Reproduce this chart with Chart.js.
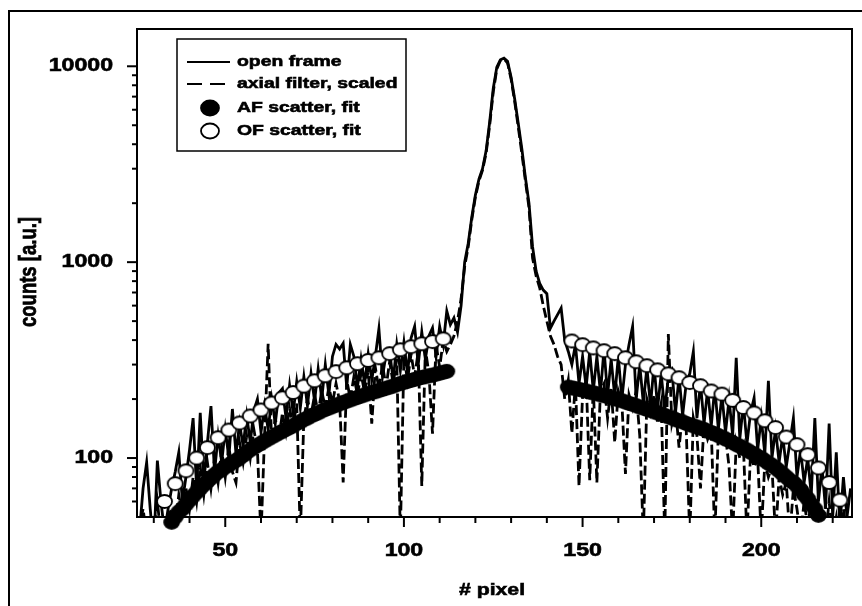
<!DOCTYPE html>
<html><head><meta charset="utf-8">
<script src="https://cdn.jsdelivr.net/npm/chart.js@4.4.1/dist/chart.umd.min.js"></script>
<style>html,body{margin:0;padding:0;background:#fff;}canvas{display:block;}</style>
</head><body>
<canvas id="c" width="862" height="606"></canvas>
<script>
// ---------------- data ----------------
const PIXEL = [
 25,26,27,28,29,30,31,32,33,34,
 35,36,37,38,39,40,41,42,43,44,
 45,46,47,48,49,50,51,52,53,54,
 55,56,57,58,59,60,61,62,63,64,
 65,66,67,68,69,70,71,72,73,74,
 75,76,77,78,79,80,81,82,83,84,
 85,86,87,88,89,90,91,92,93,94,
 95,96,97,98,99,100,101,102,103,104,
 105,106,107,108,109,110,111,112,113,114,
 115,116,117,118,119,120,121,122,123,124,
 125,126,127,128,129,130,131,132,133,134,
 135,136,137,138,139,140,141,142,143,144,
 145,146,147,148,149,150,151,152,153,154,
 155,156,157,158,159,160,161,162,163,164,
 165,166,167,168,169,170,171,172,173,174,
 175,176,177,178,179,180,181,182,183,184,
 185,186,187,188,189,190,191,192,193,194,
 195,196,197,198,199,200,201,202,203,204,
 205,206,207,208,209,210,211,212,213,214,
 215,216,217,218,219,220,221,222,223,224,
 225];
const OPEN_FRAME = [
 40,42,70,95,55,35,97,60,42,55,
 70,85,107,60,80,110,160,70,170,75,
 120,184,85,130,95,140,100,178,105,150,
 115,165,120,175,200,135,185,140,200,150,
 215,226,160,235,170,245,180,260,185,270,
 195,285,200,300,210,330,380,360,385,230,
 380,330,230,320,240,340,250,330,457,260,
 340,350,250,380,280,390,270,410,470,300,
 440,320,420,462,330,470,380,563,480,520,
 440,600,1000,1250,1700,2200,2650,3000,3700,5200,
 7700,9900,10800,11000,10600,8800,6800,5100,3800,2700,
 2000,1200,900,780,720,690,460,500,540,583,
 400,350,300,380,240,330,230,350,220,330,
 215,360,210,320,205,330,200,300,380,470,
 200,300,190,290,185,300,180,270,175,260,
 280,170,260,165,240,270,350,160,240,150,
 225,145,230,140,210,135,200,130,325,125,
 190,118,170,203,110,160,105,248,100,140,
 95,130,90,120,160,80,110,75,100,65,
 160,60,90,55,150,50,107,45,80,50,
 70];
const AXIAL_FILTER = [
 30,45,55,40,30,45,60,40,35,50,
 55,45,65,50,70,55,80,60,90,65,
 95,70,100,75,110,80,115,85,75,120,
 95,130,100,140,110,40,130,383,120,160,
 125,170,135,180,145,190,40,160,200,165,
 210,170,220,180,230,190,240,195,75,250,
 200,260,210,270,215,280,150,290,225,300,
 230,310,240,320,40,330,250,340,260,350,
 72,360,270,133,380,290,400,350,380,420,
 500,650,950,1200,1650,2150,2600,2950,3600,5000,
 7400,9700,10700,10900,10400,8600,6600,4900,3600,2600,
 1900,1050,850,740,600,500,420,380,330,300,
 200,250,134,240,72,210,250,77,230,75,
 220,240,160,230,120,220,190,83,210,180,
 220,130,40,200,170,210,150,190,40,430,
 150,180,113,170,140,40,160,130,70,150,
 125,140,40,135,115,130,90,40,120,100,
 115,40,105,90,100,40,95,80,90,40,
 80,65,75,40,70,55,40,60,45,60,
 40,55,45,40,60,40,50,35,55,40,
 45];
const OF_FIT_X = [
 33,36,39,42,45,48,51,54,57,60,63,66,69,72,75,78,81,84,87,90,93,96,99,102,105,108,111,
 147,150,153,156,159,162,165,168,171,174,177,180,183,186,189,192,195,198,201,204,207,210,213,216,219,222];
const OF_FIT_Y = [
 60,74,86,100,113,127,139,151,164,176,191,203,216,233,248,263,276,289,303,315,325,341,357,370,383,393,406,
 396,379,365,353,341,325,310,296,282,269,257,243,234,220,212,197,181,170,155,143,128,117,104,89,75,61];
const AF_FIT_X = [
 35,36,37,38,39,40,41,42,43,44,45,46,47,48,49,50,51,52,53,54,
 55,56,57,58,59,60,61,62,63,64,65,66,67,68,69,70,71,72,73,74,
 75,76,77,78,79,80,81,82,83,84,85,86,87,88,89,90,91,92,93,94,
 95,96,97,98,99,100,101,102,103,104,105,106,107,108,109,110,111,112,
 146,147,148,149,150,151,152,153,154,155,156,157,158,159,160,161,162,163,164,165,
 166,167,168,169,170,171,172,173,174,175,176,177,178,179,180,181,182,183,184,185,
 186,187,188,189,190,191,192,193,194,195,196,197,198,199,200,201,202,203,204,205,
 206,207,208,209,210,211,212,213,214,215,216];
const AF_FIT_Y = [
 47,50,53,55,58,61,64,67,70,73,76,79,82,85,87,90,92,95,97,100,
 103,107,110,113,116,119,122,125,128,131,134,137,140,143,146,150,153,157,160,164,
 167,170,174,177,180,183,186,189,192,195,198,201,204,207,210,213,216,218,221,224,
 227,230,233,237,240,243,246,249,252,255,258,260,263,265,268,271,274,277,
 230,228,226,224,222,220,217,215,213,210,208,206,203,201,198,196,193,190,188,185,
 182,180,177,175,172,170,167,165,162,160,157,155,153,150,148,146,144,142,140,137,
 135,133,130,128,125,123,120,117,115,112,110,107,105,102,100,97,94,92,89,86,
 83,80,77,75,72,69,65,62,58,55,51];
const X_MAJOR_TICKS = [50,100,150,200];
const X_MINOR_TICKS = [30,40,60,70,80,90,110,120,130,140,160,170,180,190,210,220];
const Y_MAJOR_TICKS = [100,1000,10000];
const Y_MINOR_TICKS = [60,70,80,90,200,300,400,500,600,700,800,900,2000,3000,4000,5000,6000,7000,8000,9000];
const SERIES_NAMES = ['open frame','axial filter, scaled','AF scatter, fit','OF scatter, fit'];
const X_TITLE = '# pixel';
const Y_TITLE = 'counts [a.u.]';

// ---------------- helpers ----------------
const FONT = "'Liberation Sans', Arial, sans-serif";
const SX = 1.25; // horizontal text stretch seen in the reference
const pts = (xs, ys) => xs.map((x, i) => ({x: x, y: ys[i]}));
function ellipseMarker(w, h, fill) {
  const c = document.createElement('canvas');
  c.width = w + 4; c.height = h + 4;
  const g = c.getContext('2d');
  g.beginPath();
  g.ellipse(c.width / 2, c.height / 2, w / 2, h / 2, 0, 0, Math.PI * 2);
  g.fillStyle = fill; g.fill();
  g.lineWidth = 1.8; g.strokeStyle = '#000'; g.stroke();
  return c;
}
const FILLED = ellipseMarker(15, 13, '#000');
const OPEN = ellipseMarker(15, 13, '#fff');
function txt(ctx, s, x, y, size, align, rot) {
  ctx.save();
  ctx.translate(x, y);
  ctx.scale(SX, 1);
  if (rot) ctx.rotate(rot);
  ctx.font = 'bold ' + size + 'px ' + FONT;
  ctx.textAlign = align; ctx.textBaseline = 'middle';
  ctx.fillStyle = '#000'; ctx.strokeStyle = '#000'; ctx.lineWidth = 0.6;
  ctx.fillText(s, 0, 0);
  ctx.strokeText(s, 0, 0);
  ctx.restore();
}

const decor = {
  id: 'decor',
  beforeDraw(chart) {
    const ctx = chart.ctx;
    ctx.save(); ctx.fillStyle = '#fff'; ctx.fillRect(0, 0, chart.width, chart.height); ctx.restore();
  },
  afterDatasetsDraw(chart) {
    const ctx = chart.ctx, a = chart.chartArea;
    const xs = chart.scales.x, ys = chart.scales.y;
    ctx.save();
    ctx.strokeStyle = '#000'; ctx.lineCap = 'butt';
    // outer frame
    ctx.lineWidth = 2;
    ctx.beginPath(); ctx.moveTo(9, 606); ctx.lineTo(9, 11); ctx.lineTo(862, 11); ctx.stroke();
    // plot border
    ctx.strokeRect(a.left, a.top, a.right - a.left, a.bottom - a.top);
    // x ticks
    X_MAJOR_TICKS.forEach(v => { const p = xs.getPixelForValue(v);
      ctx.beginPath(); ctx.moveTo(p, a.bottom); ctx.lineTo(p, a.bottom + 10); ctx.stroke();
      txt(ctx, String(v), p, 551, 18.5, 'center'); });
    X_MINOR_TICKS.forEach(v => { const p = xs.getPixelForValue(v);
      ctx.beginPath(); ctx.moveTo(p, a.bottom); ctx.lineTo(p, a.bottom + 6); ctx.stroke(); });
    // y ticks
    Y_MAJOR_TICKS.forEach(v => { const p = ys.getPixelForValue(v);
      ctx.beginPath(); ctx.moveTo(a.left - 10, p); ctx.lineTo(a.left, p); ctx.stroke();
      txt(ctx, String(v), 113, p, 18.5, 'right'); });
    Y_MINOR_TICKS.forEach(v => { const p = ys.getPixelForValue(v);
      ctx.beginPath(); ctx.moveTo(a.left - 5, p); ctx.lineTo(a.left, p); ctx.stroke(); });
    // axis titles
    txt(ctx, X_TITLE, 492, 590, 17, 'center');
    txt(ctx, Y_TITLE, 30, 272, 18.5, 'center', -Math.PI / 2);
    // legend
    ctx.lineWidth = 1.5;
    ctx.fillStyle = '#fff';
    ctx.fillRect(177, 39, 229, 112);
    ctx.strokeRect(177, 39, 229, 112);
    const rows = [62, 84, 108, 131];
    ctx.lineWidth = 2;
    ctx.beginPath(); ctx.moveTo(187, rows[0]); ctx.lineTo(230, rows[0]); ctx.stroke();
    ctx.setLineDash([15, 8]);
    ctx.beginPath(); ctx.moveTo(187, rows[1]); ctx.lineTo(230, rows[1]); ctx.stroke();
    ctx.setLineDash([]);
    [[rows[2], '#000'], [rows[3], '#fff']].forEach(([y, f]) => {
      ctx.beginPath(); ctx.ellipse(210, y, 9, 7.5, 0, 0, Math.PI * 2);
      ctx.fillStyle = f; ctx.fill(); ctx.lineWidth = 1.8; ctx.stroke(); });
    SERIES_NAMES.forEach((s, i) => txt(ctx, s, 237, rows[i], 15.5, 'left'));
    ctx.restore();
  }
};

new Chart(document.getElementById('c'), {
  data: {
    datasets: [
      { type: 'line', label: SERIES_NAMES[0], data: pts(PIXEL, OPEN_FRAME), borderColor: '#000',
        borderWidth: 2.8, pointRadius: 0, tension: 0, fill: false, order: 3 },
      { type: 'line', label: SERIES_NAMES[1], data: pts(PIXEL, AXIAL_FILTER), borderColor: '#000',
        borderWidth: 2.8, borderDash: [10, 4], pointRadius: 0, tension: 0, fill: false, order: 4 },
      { type: 'scatter', label: SERIES_NAMES[2], data: pts(AF_FIT_X, AF_FIT_Y), pointStyle: FILLED,
        pointRadius: 7, clip: false, order: 2 },
      { type: 'scatter', label: SERIES_NAMES[3], data: pts(OF_FIT_X, OF_FIT_Y), pointStyle: OPEN,
        pointRadius: 7, clip: false, order: 1 }
    ]
  },
  options: {
    responsive: false, animation: false, devicePixelRatio: 1,
    layout: { padding: { left: 137, right: 10, top: 29, bottom: 89 } },
    plugins: { legend: { display: false }, tooltip: { enabled: false } },
    scales: {
      x: { type: 'linear', min: 25.3, max: 225.4, display: false },
      y: { type: 'logarithmic', min: 50, max: 15500, display: false }
    }
  },
  plugins: [decor]
});
</script>
</body></html>
